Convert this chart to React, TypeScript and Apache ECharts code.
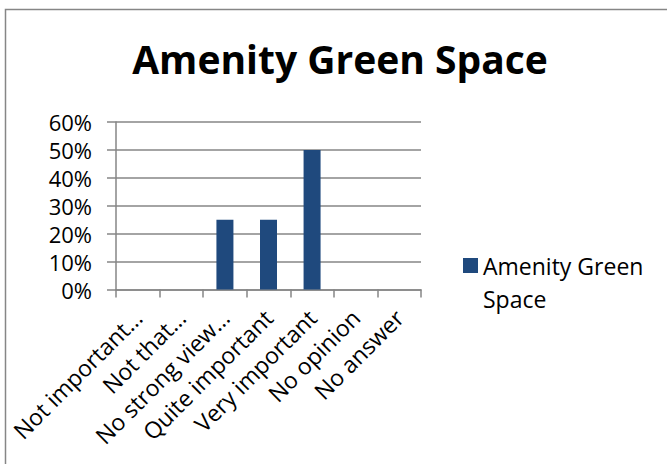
import React, { useEffect, useRef } from "react";
import * as echarts from "echarts";

const categories = [
  "Not important…",
  "Not that…",
  "No strong view…",
  "Quite important",
  "Very important",
  "No opinion",
  "No answer",
];
const seriesName = "Amenity Green Space";
const values = [0, 0, 0.25, 0.25, 0.5, 0, 0];
const yTicks = { min: 0, max: 0.6, interval: 0.1 };

const FONT = "'Open Sans', sans-serif";
const GRAY = "#868686";

export default function App() {
  const ref = useRef<HTMLDivElement>(null);
  useEffect(() => {
    if (!ref.current) return;
    const chart = echarts.init(ref.current, null, { renderer: "svg" });
    chart.setOption({
      animation: false,
      backgroundColor: "#ffffff",
      title: {
        text: "Amenity Green Space",
        left: 340,
        textAlign: "center",
        top: 39,
        padding: 0,
        textStyle: { fontFamily: FONT, fontWeight: "bold", fontSize: 39, color: "#000" },
      },
      graphic: [
        {
          type: "rect",
          shape: { x: 5.5, y: 9.5, width: 700, height: 500 },
          style: { fill: "none", stroke: GRAY, lineWidth: 1.5 },
          silent: true,
        },
      ],
      legend: {
        left: 463,
        top: 216,
        padding: 0,
        icon: "rect",
        itemWidth: 15,
        itemHeight: 15,
        selectedMode: false,
        formatter: () => "\nAmenity Green\nSpace",
        textStyle: {
          fontFamily: FONT,
          fontSize: 23,
          lineHeight: 33,
          color: "#000",
        },
      },
      grid: { left: 116, top: 122, right: 246, bottom: 174.5, containLabel: false },
      xAxis: {
        type: "category",
        data: categories,
        boundaryGap: true,
        axisLine: { show: true, lineStyle: { color: GRAY, width: 1.5 } },
        axisTick: { show: true, length: 8, interval: 0, lineStyle: { color: GRAY, width: 1.5 } },
        axisLabel: {
          interval: 0,
          rotate: 45,
          margin: 24,
          fontFamily: FONT,
          fontSize: 23,
          color: "#000",
        },
        splitLine: { show: false },
      },
      yAxis: {
        type: "value",
        min: yTicks.min,
        max: yTicks.max,
        interval: yTicks.interval,
        axisLine: { show: true, lineStyle: { color: GRAY, width: 1.5 } },
        axisTick: { show: true, length: 9, lineStyle: { color: GRAY, width: 1.5 } },
        axisLabel: {
          margin: 24,
          fontFamily: FONT,
          fontSize: 22,
          color: "#000",
          formatter: (v: number) => `${Math.round(v * 100)}%`,
        },
        splitLine: { show: true, lineStyle: { color: GRAY, width: 1.5 } },
      },
      series: [
        {
          name: seriesName,
          type: "bar",
          data: values,
          barWidth: 17,
          itemStyle: { color: "#1F497D" },
        },
      ],
    });
    return () => chart.dispose();
  }, []);
  return (
    <div
      ref={ref}
      style={{ position: "fixed", left: 0, top: 0, width: 667, height: 464, background: "#fff" }}
    />
  );
}
